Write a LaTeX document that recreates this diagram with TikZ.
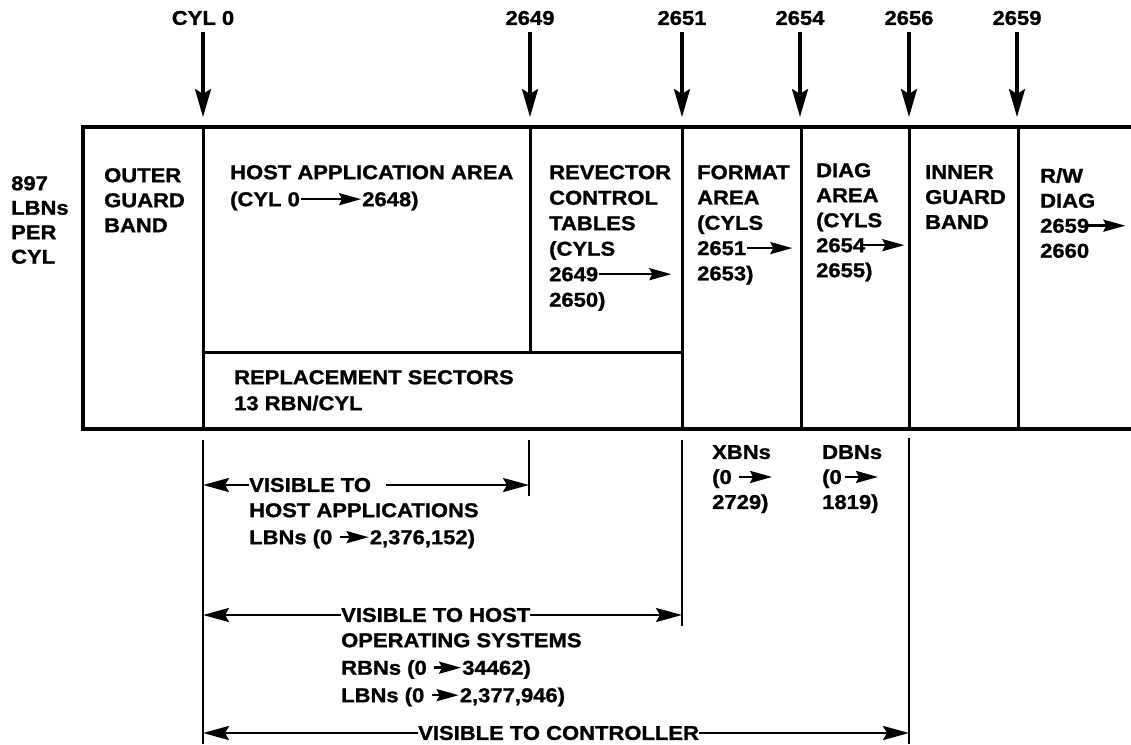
\documentclass[tikz,border=0pt]{standalone}
\usepackage{fontspec}
\setmainfont{Liberation Sans}[FakeStretch=1.1, BoldFeatures={FakeBold=1.2}]
\usetikzlibrary{arrows.meta}
\newcommand{\lfont}{\fontsize{20}{25}\selectfont\bfseries}
\newcommand{\iarr}[1]{\tikz[baseline=0pt]\draw[line width=2.4pt,-{Stealth[length=22pt,width=12pt,inset=3pt]}] (0pt,7pt) -- (#1,7pt);}
\begin{document}
\begin{tikzpicture}[x=1pt,y=-1pt,
  txt/.style={font=\lfont, anchor=north west, inner sep=0pt, align=left},
  toplab/.style={font=\lfont, inner sep=0pt},
  toparr/.style={line width=3.2pt, -{Stealth[length=28pt,width=16pt,inset=5pt]}, shorten <=7pt},
  frame/.style={line width=4.5pt},
  divider/.style={line width=3pt},
  tick/.style={line width=2.8pt},
  dim/.style={line width=2.6pt, -{Stealth[length=26pt,width=14pt,inset=4pt]}},
]
\useasboundingbox (0,0) rectangle (1131,744);

% top cylinder labels and arrows
\node[toplab] (c0) at (203,18) {CYL 0};
\node[toplab] (c2649) at (530,18) {2649};
\node[toplab] (c2651) at (682,18) {2651};
\node[toplab] (c2654) at (800,18) {2654};
\node[toplab] (c2656) at (909,18) {2656};
\node[toplab] (c2659) at (1017,18) {2659};
\coordinate (a0) at (203,117);
\coordinate (a2649) at (530,117);
\coordinate (a2651) at (682,117);
\coordinate (a2654) at (800,117);
\coordinate (a2656) at (909,117);
\coordinate (a2659) at (1017,117);
\draw[toparr] (c0.south) -- (a0);
\draw[toparr] (c2649.south) -- (a2649);
\draw[toparr] (c2651.south) -- (a2651);
\draw[toparr] (c2654.south) -- (a2654);
\draw[toparr] (c2656.south) -- (a2656);
\draw[toparr] (c2659.south) -- (a2659);

% the band
\draw[frame] (1131,127) -- (83,127) -- (83,429) -- (1131,429);
\draw[divider] (203,127) -- (203,429);
\draw[divider] (530,127) -- (530,352);
\draw[divider] (203,352) -- (682,352);
\draw[divider] (682,127) -- (682,429);
\draw[divider] (801,127) -- (801,429);
\draw[divider] (909,127) -- (909,429);
\draw[divider] (1018,127) -- (1018,429);

% texts in the band
\node[txt, font=\fontsize{20}{24.5}\selectfont\bfseries] (lbn) at (11,176) {897\\LBNs\\PER\\CYL};
\node[txt] (outer) at (104,168) {OUTER\\GUARD\\BAND};
\node[txt] (host) at (230,165) {HOST APPLICATION AREA\\[2pt](CYL 0\iarr{60pt}2648)};
\node[txt, font=\fontsize{20}{25.5}\selectfont\bfseries] (rev) at (549,165) {REVECTOR\\CONTROL\\TABLES\\(CYLS\\2649\iarr{72pt}\\2650)};
\node[txt, font=\fontsize{20}{25.3}\selectfont\bfseries] (fmt) at (697,165) {FORMAT\\AREA\\(CYLS\\2651\iarr{45pt}\\2653)};
\node[txt] (diag) at (816,163) {DIAG\\AREA\\(CYLS\\2654\kern-6pt\iarr{44pt}\\2655)};
\node[txt] (inner) at (925,165) {INNER\\GUARD\\BAND};
\node[txt] (rw) at (1040,168) {R/W\\DIAG\\2659\kern-2pt\iarr{37pt}\\2660};
\node[txt, font=\fontsize{20}{26}\selectfont\bfseries] (repl) at (234,370) {REPLACEMENT SECTORS\\13 RBN/CYL};

% extension lines below the band
\coordinate (e0t) at (203,440);   \coordinate (e0b) at (203,744);
\coordinate (e1t) at (529,440);   \coordinate (e1b) at (529,496);
\coordinate (e2t) at (682,440);   \coordinate (e2b) at (682,626);
\coordinate (e3t) at (909,438);   \coordinate (e3b) at (909,744);
\draw[tick] (e0t) -- (e0b);
\draw[tick] (e1t) -- (e1b);
\draw[tick] (e2t) -- (e2b);
\draw[tick] (e3t) -- (e3b);

% block numbers below the band
\node[txt] (xbn) at (712,445) {XBNs\\(0 \iarr{33pt}\\2729)};
\node[txt] (dbn) at (822,445) {DBNs\\(0\kern2pt\iarr{33pt}\\1819)};

% visible to host applications
\coordinate (L1) at (203,485);
\coordinate (R1) at (529,485);
\node[txt, anchor=west] (v1) at (249,485) {VISIBLE TO};
\draw[dim] (v1.west) -- (L1);
\draw[dim] ([xshift=15pt]v1.east) -- (R1);
\node[txt, font=\fontsize{20}{27}\selectfont\bfseries] (v1b) at (249,503) {HOST APPLICATIONS\\LBNs (0 \iarr{29pt}2,376,152)};

% visible to host operating systems
\coordinate (L2) at (203,615);
\coordinate (R2) at (682,615);
\node[txt, anchor=west] (v2) at (341,615) {VISIBLE TO HOST};
\draw[dim] (v2.west) -- (L2);
\draw[dim] (v2.east) -- (R2);
\node[txt, font=\fontsize{20}{27.5}\selectfont\bfseries] (v2b) at (341,633) {OPERATING SYSTEMS\\RBNs (0 \iarr{27pt}34462)\\LBNs (0 \iarr{27pt}2,377,946)};

% visible to controller
\coordinate (L3) at (203,733);
\coordinate (R3) at (909,733);
\node[txt, anchor=west] (v3) at (418,733) {VISIBLE TO CONTROLLER};
\draw[dim] (v3.west) -- (L3);
\draw[dim] (v3.east) -- (R3);
\end{tikzpicture}
\end{document}
